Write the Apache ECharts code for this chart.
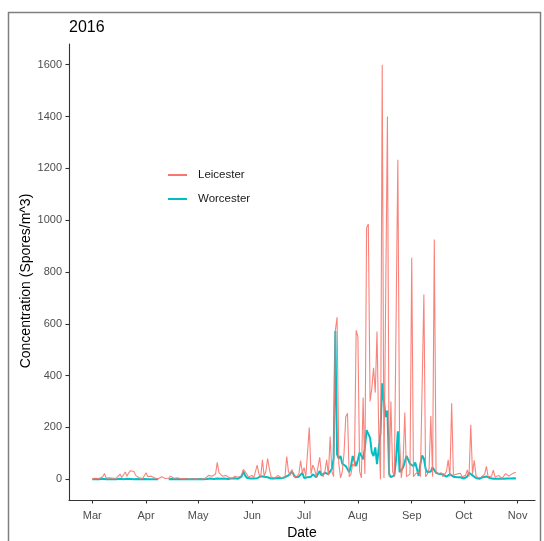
<!DOCTYPE html>
<html>
<head>
<meta charset="utf-8">
<script src="https://cdn.jsdelivr.net/npm/echarts@6/dist/echarts.min.js"></script>
<style>html,body{margin:0;padding:0;background:#fff}#c{width:544px;height:541px}</style>
</head>
<body>
<div id="c"></div>
<script>
// Daily series start date (one value per day)
const startDate = [2016, 2, 1]; // 2016-03-01 (UTC, month 0-based)

const leicester = [
  3, 2, 4, 5, 3, 6, 10, 22, 5, 3,
  6, 12, 4, 3, 5, 8, 20, 7, 4, 28,
  12, 25, 33, 35, 30, 15, 10, 6, 4, 3,
  8, 25, 10, 5, 12, 8, 5, 3, 2, 6,
  10, 5, 3, 2, 4, 12, 8, 4, 10, 6,
  3, 2, 1, 3, 2, 1, 2, 1, 0, 2,
  1, 1, 2, 0, 1, 3, 10, 15, 8, 12,
  5, 20, 65, 25, 18, 12, 6, 15, 8, 5,
  10, 4, 12, 6, 8, 3, 15, 38, 30, 20,
  8, 12, 15, 5, 10, 55, 20, 8, 75, 12,
  30, 80, 40, 10, 3, 5, 8, 15, 22, 5,
  3, 10, 88, 30, 15, 38, 10, 5, 12, 20,
  72, 25, 45, 10, 5, 200, 20, 55, 40, 10,
  5, 85, 20, 10, 30, 75, 15, 165, 30, 10,
  575, 625, 60, 5, 30, 100, 240, 255, 10, 20,
  60, 50, 575, 550, 30, 5, 316, 20, 970, 985,
  300, 350, 430, 335, 570, 180, 0, 1600, 5, 0,
  1400, 10, 300, 30, 10, 5, 1233, 150, 5, 60,
  258, 10, 5, 20, 855, 10, 20, 15, 30, 10,
  5, 713, 10, 20, 40, 244, 10, 925, 30, 20,
  15, 25, 10, 20, 30, 75, 10, 293, 15, 10,
  20, 15, 23, 10, 5, 15, 36, 10, 210, 20,
  73, 15, 5, 10, 8, 15, 20, 50, 10, 5,
  12, 35, 8, 5, 15, 8, 3, 10, 22, 20,
  12, 18, 22, 25, 27
];

const worcester = [
  0, 0, 1, 0, 0, 1, 2, 1, 0, 0,
  0, 1, 0, 0, 0, 1, 2, 0, 0, 1,
  2, 1, 1, 0, 0, 0, 1, 0, 0, 0,
  1, 0, 0, 1, 0, 0, 0, 0, 0, null,
  null, null, null, null, 0, 0, 1, 0, 0, 0,
  1, 0, 0, 0, 1, 0, 0, 0, 1, 0,
  0, 0, 1, 0, 0, 2, 1, 0, 3, 2,
  1, 2, 3, 5, 2, 1, 3, 2, 1, 2,
  3, 2, 4, 3, 2, 5, 10, 30, 15, 6,
  4, 3, 5, 3, 6, 4, 8, 12, 15, 10,
  12, 8, 5, 3, 4, 3, 6, 5, 8, 4,
  6, 8, 12, 15, 22, 30, 18, 8, 5, 10,
  15, 25, 5, 3, 8, 13, 10, 19, 15, 8,
  20, 32, 15, 13, 25, 32, 20, 19, 40, 80,
  572, 96, 80, 90, 60, 55, 51, 40, 27, 50,
  90, 70, 51, 75, 103, 90, 77, 120, 190, 195,
  160, 104, 90, 123, 58, 120, 180, 370, 300, 240,
  265, 20, 8, 5, 15, 80, 185, 27, 30, 45,
  40, 90, 85, 60, 65, 50, 65, 40, 13, 60,
  92, 80, 40, 27, 25, 30, 46, 40, 25, 19,
  20, 15, 19, 20, 10, 15, 20, 27, 10, 8,
  8, 5, 8, 5, 3, 5, 10, 25, 32, 15,
  8, 5, 3, 2, 5, 8, 10, 11, 8, 5,
  3, 2, 3, 2, 1, 2, 3, 2, 5, 3,
  2, 3, 5, 4, 3
];

const monthTickDates = [[2016,2,1],[2016,3,1],[2016,4,1],[2016,5,1],[2016,6,1],[2016,7,1],[2016,8,1],[2016,9,1],[2016,10,1]];
const monthTickLabels = ['Mar','Apr','May','Jun','Jul','Aug','Sep','Oct','Nov'];
const yTickValues = [0, 200, 400, 600, 800, 1000, 1200, 1400, 1600];

const DAY = 86400000;
const t0 = Date.UTC(startDate[0], startDate[1], startDate[2]);
const toPairs = arr => arr.map((v, i) => [t0 + i * DAY, v]);
const monthTicks = monthTickDates.map(d => Date.UTC(d[0], d[1], d[2]));

const xMin = t0 - 13.4 * DAY;
const xMax = xMin + 268.4 * DAY;

const chart = echarts.init(document.getElementById('c'), null, {renderer: 'canvas'});
const FONT = "'Liberation Sans', Arial, sans-serif";
chart.setOption({
  animation: false,
  backgroundColor: '#fff',
  textStyle: {fontFamily: FONT},
  title: {
    text: '2016', left: 69, top: 20, padding: 0,
    textStyle: {fontFamily: FONT, fontSize: 16, fontWeight: 'normal', color: '#000'}
  },
  graphic: [
    {
      type: 'rect', silent: true,
      shape: {x: 8.5, y: 12.5, width: 532, height: 560},
      style: {fill: 'none', stroke: '#7f7f7f', lineWidth: 1.5}
    },
    {
      type: 'text', silent: true, x: 26, y: 281, rotation: Math.PI / 2,
      style: {text: 'Concentration (Spores/m^3)', fontFamily: FONT, fontSize: 14, fill: '#000',
              align: 'center', verticalAlign: 'middle'}
    }
  ],
  legend: {
    data: [{name: 'Leicester', icon: 'rect'}, {name: 'Worcester', icon: 'rect'}],
    orient: 'vertical', left: 168, top: 168,
    itemWidth: 19, itemHeight: 2, itemGap: 10, padding: 0,
    textStyle: {fontFamily: FONT, fontSize: 11.5, color: '#1a1a1a', lineHeight: 14, padding: [0, 0, 0, 6]}
  },
  grid: {left: 69, right: 9, top: 44, bottom: 41, containLabel: false, outerBoundsMode: 'none'},
  xAxis: {
    type: 'value', min: xMin, max: xMax,
    name: 'Date', nameLocation: 'middle', nameGap: 25,
    nameTextStyle: {fontFamily: FONT, fontSize: 14, color: '#000'},
    axisLine: {show: true, onZero: false, lineStyle: {color: '#333', width: 1.1}},
    axisTick: {show: true, length: 3.5, lineStyle: {color: '#333', width: 1.1}, customValues: monthTicks},
    axisLabel: {
      customValues: monthTicks, margin: 10, fontSize: 11, color: '#4d4d4d', fontFamily: FONT,
      formatter: v => { const k = monthTicks.indexOf(v); return k >= 0 ? monthTickLabels[k] : ''; }
    },
    splitLine: {show: false}
  },
  yAxis: {
    type: 'value', min: -80, max: 1680,
    axisLine: {show: true, onZero: false, lineStyle: {color: '#333', width: 1.1}},
    axisTick: {show: true, length: 3.5, lineStyle: {color: '#333', width: 1.1}, customValues: yTickValues},
    axisLabel: {customValues: yTickValues, margin: 7, fontSize: 11, color: '#4d4d4d', fontFamily: FONT,
                formatter: v => String(v)},
    splitLine: {show: false}
  },
  series: [
    {
      name: 'Worcester', type: 'line', data: toPairs(worcester),
      symbol: 'none', showSymbol: false, connectNulls: false, z: 2,
      lineStyle: {color: '#00BFC4', width: 2}, itemStyle: {color: '#00BFC4'}
    },
    {
      name: 'Leicester', type: 'line', data: toPairs(leicester),
      symbol: 'none', showSymbol: false, z: 3,
      lineStyle: {color: '#F8766D', width: 1.1, opacity: 0.9}, itemStyle: {color: '#F8766D'}
    }
  ]
});
</script>
</body>
</html>
